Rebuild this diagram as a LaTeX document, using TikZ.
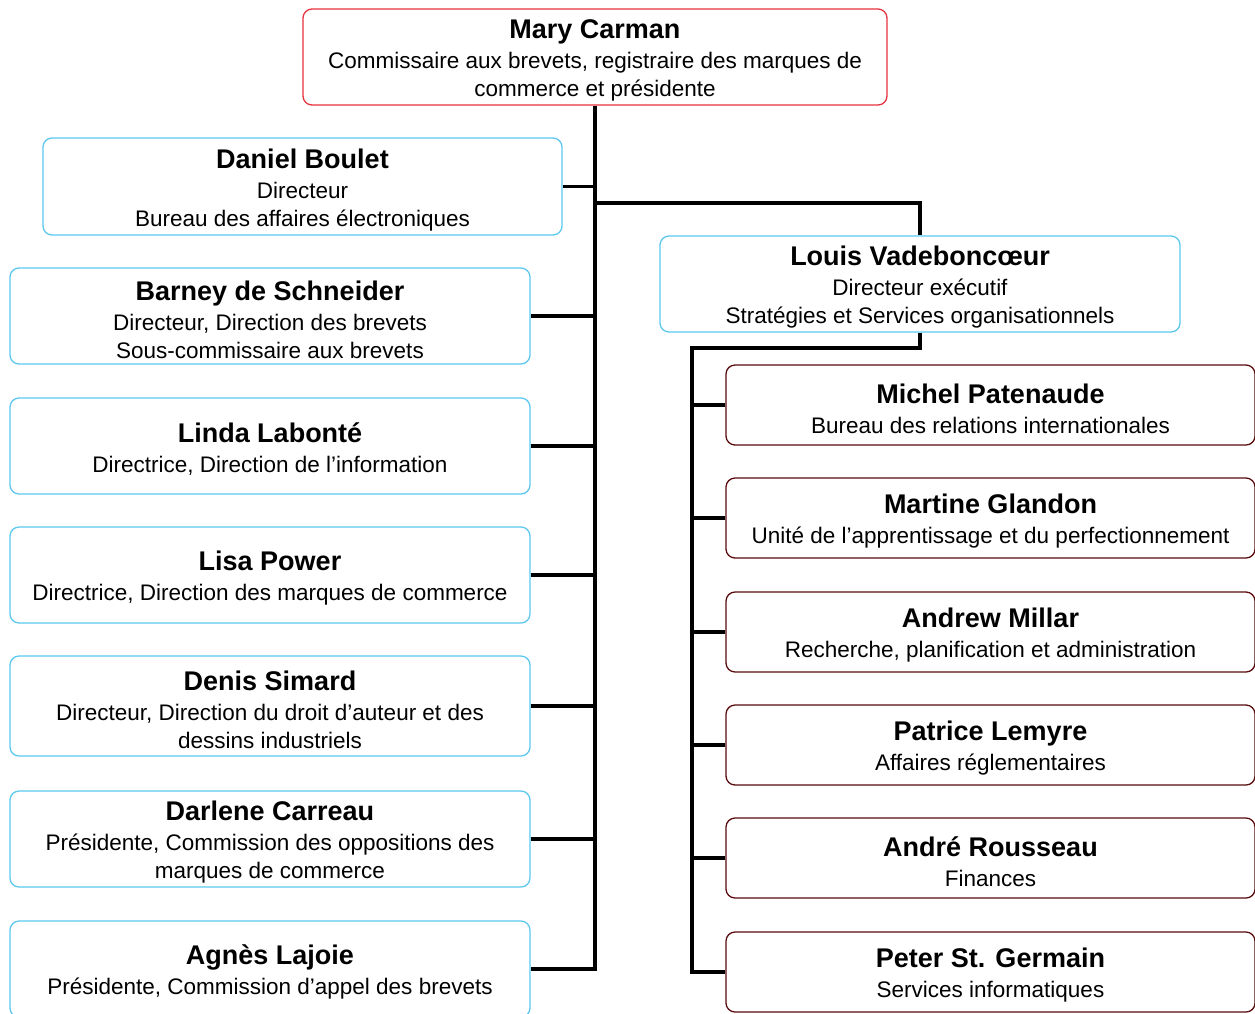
\documentclass[tikz,border=0pt]{standalone}
\usepackage{fontspec}
\setmainfont{Liberation Sans}
\definecolor{topred}{RGB}{232,52,62}
\definecolor{lblue}{RGB}{92,200,240}
\definecolor{rdark}{RGB}{90,12,14}
\newcommand\bodyfnt{\fontsize{22.5}{28}\selectfont}
\newcommand\namefnt{\fontsize{27}{30}\selectfont\bfseries\rule{0pt}{26.5pt}}
\begin{document}
\begin{tikzpicture}[x=1pt,y=-1pt,
  box/.style={rectangle, rounded corners=9pt, line width=1.3pt, align=center, inner sep=0pt, font=\bodyfnt, text=black},
  topbox/.style={box, draw=topred, minimum width=584pt, minimum height=96pt},
  lbox/.style={box, draw=lblue, minimum width=520pt, minimum height=96pt},
  rbox/.style={box, draw=rdark, minimum width=529pt, minimum height=80pt},
  conn/.style={draw=black, line width=3.2pt, line join=miter}]
\useasboundingbox[fill=white] (0,0) rectangle (1255,1013);

\node[topbox] (mary) at (595,57) {{\namefnt Mary Carman}\\[2pt]Commissaire aux brevets, registraire des marques de\\commerce et présidente};

\node[lbox, minimum width=519pt, minimum height=97pt] (daniel) at (302.5,186.5) {{\namefnt Daniel Boulet}\\[2pt]Directeur\\Bureau des affaires électroniques};
\node[lbox] (barney) at (270,316) {{\namefnt Barney de Schneider}\\[2pt]Directeur, Direction des brevets\\Sous-commissaire aux brevets};
\node[lbox] (linda) at (270,446) {{\namefnt Linda Labonté}\\[2pt]Directrice, Direction de l’information};
\node[lbox] (lisa) at (270,575) {{\namefnt Lisa Power}\\[2pt]Directrice, Direction des marques de commerce};
\node[lbox, minimum height=100pt] (denis) at (270,706) {{\namefnt Denis Simard}\\[2pt]Directeur, Direction du droit d’auteur et des\\dessins industriels};
\node[lbox] (darlene) at (270,839) {{\namefnt Darlene Carreau}\\[2pt]Présidente, Commission des oppositions des\\marques de commerce};
\node[lbox] (agnes) at (270,969) {{\namefnt Agnès Lajoie}\\[2pt]Présidente, Commission d’appel des brevets};

\node[lbox] (louis) at (920,284) {{\namefnt Louis Vadeboncœur}\\[2pt]Directeur exécutif\\Stratégies et Services organisationnels};

\node[rbox] (michel) at (990.5,405) {{\namefnt Michel Patenaude}\\[2pt]Bureau des relations internationales};
\node[rbox] (martine) at (990.5,518) {{\namefnt Martine Glandon}\\[2pt]Unité de l’apprentissage et du perfectionnement};
\node[rbox] (andrew) at (990.5,632) {{\namefnt Andrew Millar}\\[2pt]Recherche, planification et administration};
\node[rbox] (patrice) at (990.5,745) {{\namefnt Patrice Lemyre}\\[2pt]Affaires réglementaires};
\node[rbox] (andre) at (990.5,858) {{\namefnt André Rousseau}\\[2pt]Finances};
\node[rbox] (peter) at (990.5,972) {{\namefnt Peter St. Germain}\\[2pt]Services informatiques};

\coordinate (j1) at (595,203);
\coordinate (j2) at (692,348);

\draw[conn] (mary.south) |- (agnes.east);
\foreach \n in {daniel,barney,linda,lisa,denis,darlene}
  \draw[conn] (\n.east) -- (\n.east -| mary.south);
\draw[conn] (j1) -| (louis.north);
\draw[conn] (louis.south) |- (j2) |- (peter.west);
\foreach \n in {michel,martine,andrew,patrice,andre}
  \draw[conn] (\n.west) -- (\n.west -| j2);
\end{tikzpicture}
\end{document}
